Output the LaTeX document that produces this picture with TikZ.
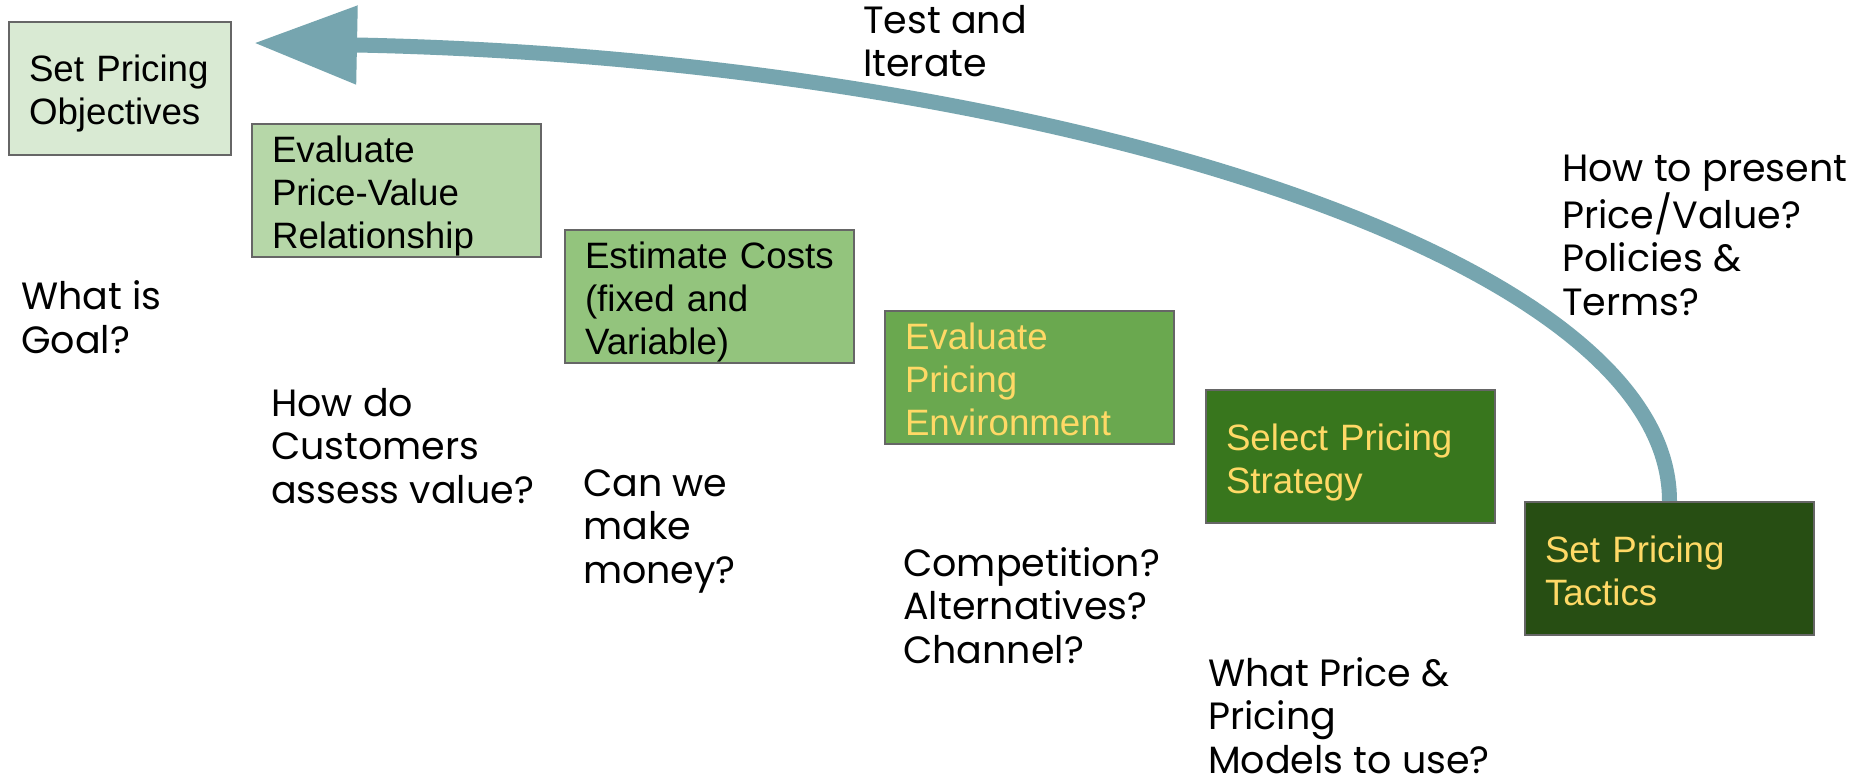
\documentclass[tikz,border=0pt]{standalone}
\usepackage{fontspec}
\setmainfont{Poppins}
\newfontfamily\boxfont{Liberation Sans}
\usetikzlibrary{arrows.meta,calc}

\definecolor{stageA}{HTML}{D9EAD3}
\definecolor{stageB}{HTML}{B6D7A8}
\definecolor{stageC}{HTML}{93C47D}
\definecolor{stageD}{HTML}{6AA84F}
\definecolor{stageE}{HTML}{38761D}
\definecolor{stageF}{HTML}{274E13}
\definecolor{stageborder}{HTML}{666666}
\definecolor{lighttext}{HTML}{FFD966}
\definecolor{loopcol}{HTML}{76A5AF}

\begin{document}
\begin{tikzpicture}[x=1pt,y=-1pt,
  stage/.style={draw=stageborder, line width=2pt, anchor=north west,
    inner xsep=20pt, inner ysep=0pt, minimum height=133pt,
    text width=249pt, align=left,
    font=\boxfont\fontsize{36.7}{43}\selectfont,
    % fixed first-line height and last-line depth keep the text placement uniform
    execute at begin node={\rule{0pt}{38pt}},
    execute at end node={\rule[-8pt]{0pt}{8pt}}},
  firststage/.style={stage, text width=182pt},
  darkstage/.style={stage, text=lighttext},
  question/.style={anchor=base west, inner sep=0pt, align=left,
    font=\fontsize{38}{43.5}\selectfont},
  iterarrow/.style={line width=15pt, draw=loopcol,
    -{Triangle[length=103pt,width=75pt]}}
]
% canvas
\fill[white] (0,0) rectangle (1861,778);
\useasboundingbox (0,0) rectangle (1861,778);

% the six stages, stepping down to the right
\node[firststage, fill=stageA] (obj)   at (8,21)     {Set~Pricing\\Objectives};
\node[stage,      fill=stageB] (pv)    at (251,123)  {Evaluate\\Price-Value\\Relationship};
\node[stage,      fill=stageC] (cost)  at (564,229)  {Estimate~Costs\\(fixed and\\Variable)};
\node[darkstage,  fill=stageD] (env)   at (884,310)  {Evaluate\\Pricing\\Environment};
\node[darkstage,  fill=stageE] (strat) at (1205,389) {Select~Pricing\\Strategy};
\node[darkstage,  fill=stageF] (tact)  at (1524,501) {Set~Pricing\\Tactics};

% guiding questions under each stage (placed by the baseline of their last line)
\node[question] (qobj)   at (21,353)   {What is\\Goal?};
\node[question] (qpv)    at (271,503)  {How do\\Customers\\assess value?};
\node[question] (qcost)  at (583,583)  {Can we\\make\\money?};
\node[question] (qenv)   at (903,663)  {Competition?\\Alternatives?\\Channel?};
\node[question] (qstrat) at (1208,773) {What Price \&\\Pricing\\Models to use?};
\node[question] (qtact)  at (1562,315) {How to present\\Price/Value?\\Policies \&\\Terms?};
\node[question] (qloop)  at (863,77)   {Test and\\Iterate};

% feedback loop from the last stage back to the first
\coordinate (tip) at ($(obj.north east)+(22,22)$);
\draw[iterarrow] (tact.north) .. controls +(0,-251) and (1020,58) .. (tip);
\end{tikzpicture}
\end{document}
